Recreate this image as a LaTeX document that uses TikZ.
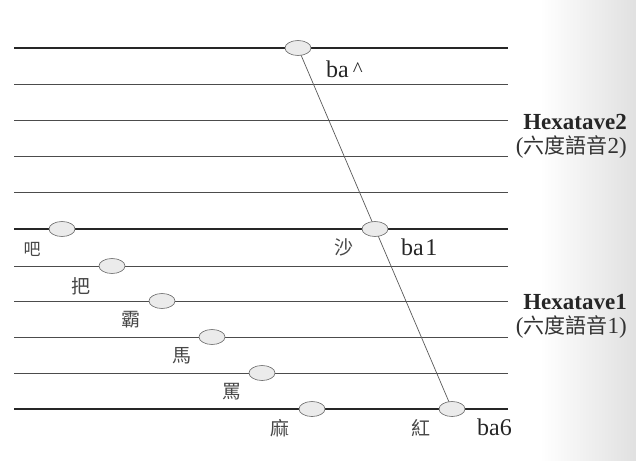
\documentclass[tikz,border=0pt]{standalone}
\usepackage{fontspec}
\setmainfont{Liberation Serif}
\newfontfamily\cjk{Noto Sans CJK TC}
\usetikzlibrary{shapes.geometric}
\begin{document}
\begin{tikzpicture}[x=1pt,y=-1pt,
  heavy/.style={line width=2.6pt, draw=black!85},
  light/.style={line width=0.8pt, draw=black!70},
  diag/.style={line width=0.7pt, draw=black!65},
  note/.style={ellipse, draw=black!60, fill=black!8, minimum width=26pt, minimum height=15pt, inner sep=0pt, line width=0.6pt},
  han/.style={font=\cjk\fontsize{19}{19}\selectfont, text=black!72, inner sep=0pt},
  lat/.style={font=\fontsize{24}{24}\selectfont, text=black!85, inner sep=0pt},
  title/.style={anchor=base east, inner sep=0pt, text=black!85, font=\bfseries\fontsize{23}{23}\selectfont},
  sub/.style={anchor=base east, inner sep=0pt, text=black!80, font=\fontsize{23}{23}\selectfont}]
\useasboundingbox (0,0) rectangle (636,460);
\shade[left color=white, right color=black!12] (540,0) rectangle (636,460);
% staff lines
\draw[heavy] (14,48) -- (508,48);
\foreach \y in {84,120,156,192} \draw[light] (14,\y) -- (508,\y);
\draw[heavy] (14,229) -- (508,229);
\foreach \y in {266,301,337,373} \draw[light] (14,\y) -- (508,\y);
\draw[heavy] (14,409) -- (508,409);
% diagonal
\coordinate (ptop) at (298,48);
\coordinate (pbot) at (452,409);
\draw[diag] (ptop) -- (pbot);
% notes
\node[note] (top) at (ptop) {};
\node[note] (sha) at (375,229) {};
\node[note] (hong) at (pbot) {};
\node[note] (n1) at (62,229) {};
\node[note] (n2) at (112,266) {};
\node[note] (n3) at (162,301) {};
\node[note] (n4) at (212,337) {};
\node[note] (n5) at (262,373) {};
\node[note] (n6) at (312,409) {};
% characters
\node[han, font=\cjk\fontsize{17}{17}\selectfont] (c1) at (32,249) {吧};
\node[han] (c2) at (81,286) {把};
\node[han] (c3) at (131,320) {霸};
\node[han] (c4) at (182,356) {馬};
\node[han] (c5) at (232,392) {罵};
\node[han] (c6) at (280,428) {麻};
\node[han] (c7) at (344,247) {沙};
\node[han] (c8) at (421,428) {紅};
% romanisations
\node[lat, anchor=west] (l1) at (326,69) {ba\,\raisebox{1pt}{\fontsize{21}{21}\selectfont\textasciicircum}};
\node[lat, anchor=west] (l2) at (401,247) {ba\kern1.5pt 1};
\node[lat, anchor=west] (l3) at (477,427) {ba6};
% hexatave labels
\node[title] (h2) at (627,129) {Hexatave2};
\node[sub] (s2) at (627,153) {(\cjk\fontsize{21}{21}\selectfont 六度語音\rmfamily\fontsize{23}{23}\selectfont 2)};
\node[title] (h1) at (627,309) {Hexatave1};
\node[sub] (s1) at (627,333) {(\cjk\fontsize{21}{21}\selectfont 六度語音\rmfamily\fontsize{23}{23}\selectfont 1)};
\end{tikzpicture}
\end{document}
